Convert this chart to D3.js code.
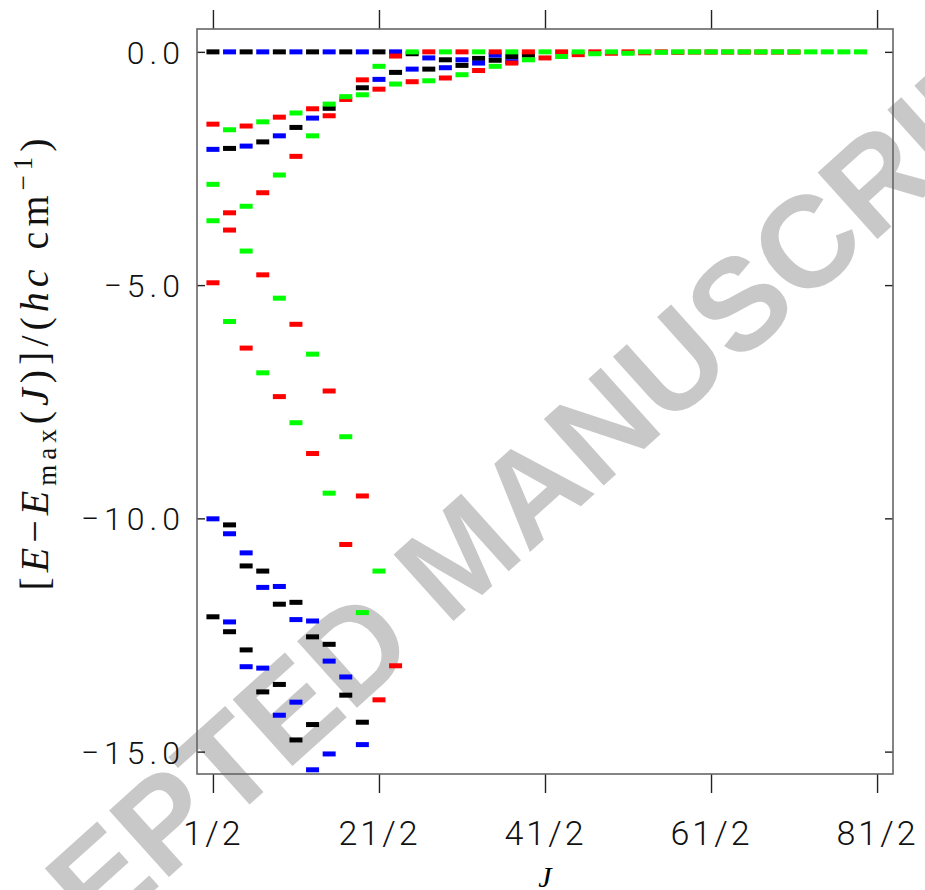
<!DOCTYPE html>
<html>
<head>
<meta charset="utf-8">
<script src="https://cdn.jsdelivr.net/npm/d3@7"></script>
<style>
  body { margin: 0; background: #fff; }
</style>
</head>
<body>
<div id="chart"></div>
<script>
// levels per colour: [J, E - Emax(J)]
const blackLevels = [
  [0.5, 0], [0.5, -12.11],
  [1.5, -2.07], [1.5, -10.14], [1.5, -12.43],
  [2.5, 0], [2.5, -11.02], [2.5, -12.82],
  [3.5, -1.93], [3.5, -11.13], [3.5, -13.72],
  [4.5, 0], [4.5, -11.84], [4.5, -13.56],
  [5.5, -1.62], [5.5, -11.80], [5.5, -14.75],
  [6.5, 0], [6.5, -12.54], [6.5, -14.42],
  [7.5, -1.21], [7.5, -12.70],
  [8.5, 0], [8.5, -13.79],
  [9.5, -0.77], [9.5, -14.37],
  [10.5, 0], [11.5, -0.44], [12.5, -0.04], [13.5, -0.37], [14.5, -0.17],
  [15.5, -0.29], [16.5, -0.14], [17.5, -0.18], [18.5, -0.10], [19.5, -0.07]
];
const blueLevels = [
  [0.5, -2.09], [0.5, -10.01],
  [1.5, 0], [1.5, -10.33], [1.5, -12.22],
  [2.5, -2.02], [2.5, -10.74], [2.5, -13.18],
  [3.5, 0], [3.5, -11.48], [3.5, -13.21],
  [4.5, -1.80], [4.5, -11.46], [4.5, -14.22],
  [5.5, 0], [5.5, -12.17], [5.5, -13.94],
  [6.5, -1.42], [6.5, -12.20], [6.5, -15.39],
  [7.5, 0], [7.5, -13.06], [7.5, -15.05],
  [8.5, -13.40],
  [9.5, 0], [9.5, -14.85],
  [10.5, -0.59], [11.5, 0], [12.5, -0.37], [13.5, -0.13], [14.5, -0.34],
  [15.5, -0.17], [16.5, -0.24], [17.5, -0.07], [18.5, -0.21]
];
const redLevels = [
  [0.5, -1.55], [0.5, -4.95],
  [1.5, -3.45], [1.5, -3.82],
  [2.5, -1.59], [2.5, -6.35],
  [3.5, -3.02], [3.5, -4.78],
  [4.5, -1.40], [4.5, -7.39],
  [5.5, -2.24], [5.5, -5.84],
  [6.5, -1.22], [6.5, -8.61],
  [7.5, -1.37], [7.5, -7.27],
  [8.5, -1.02], [8.5, -10.56],
  [9.5, -0.60], [9.5, -9.52],
  [10.5, -0.80], [10.5, -13.89],
  [11.5, -0.09], [11.5, -13.16],
  [12.5, -0.64], [13.5, 0], [14.5, -0.56], [15.5, 0], [16.5, -0.40],
  [17.5, 0], [18.5, -0.24], [19.5, 0], [20.5, -0.13], [21.5, 0],
  [22.5, -0.06], [23.5, 0], [24.5, -0.03], [25.5, 0], [26.5, -0.02],
  [27.5, 0], [28.5, -0.01], [29.5, -0.005], [30.5, -0.005], [31.5, -0.005],
  [32.5, -0.005], [33.5, -0.005], [34.5, -0.005], [35.5, -0.005]
];
const greenLevels = [
  [0.5, -2.84], [0.5, -3.62],
  [1.5, -1.67], [1.5, -5.78],
  [2.5, -3.31], [2.5, -4.27],
  [3.5, -1.50], [3.5, -6.88],
  [4.5, -2.64], [4.5, -5.28],
  [5.5, -1.31], [5.5, -7.95],
  [6.5, -1.80], [6.5, -6.48],
  [7.5, -1.12], [7.5, -9.46],
  [8.5, -0.96], [8.5, -8.25],
  [9.5, -0.92], [9.5, -12.02],
  [10.5, -0.31], [10.5, -11.13],
  [11.5, -0.69], [12.5, 0], [13.5, -0.62], [14.5, 0], [15.5, -0.49],
  [16.5, 0], [17.5, -0.31], [18.5, 0], [19.5, -0.17], [20.5, 0],
  [21.5, -0.10], [22.5, 0], [23.5, -0.04], [24.5, 0], [25.5, -0.03],
  [26.5, 0], [27.5, -0.01], [28.5, 0], [29.5, 0], [30.5, 0], [31.5, 0],
  [32.5, 0], [33.5, 0], [34.5, 0], [35.5, 0], [36.5, 0], [37.5, 0],
  [38.5, 0], [39.5, 0]
];
const jTicks = [0.5, 10.5, 20.5, 30.5, 40.5];
const eTicks = [0, -5, -10, -15];

const width = 925;
const height = 890;
const frame = { left: 197, right: 893, top: 29, bottom: 774 };

const svg = d3
  .select("#chart")
  .append("svg")
  .attr("width", width)
  .attr("height", height);

// watermark sits under everything
svg
  .append("text")
  .attr("transform", "translate(490,588) rotate(-42)")
  .attr("text-anchor", "middle")
  .style("font-family", "'Liberation Sans', Arial, sans-serif")
  .style("font-weight", "bold")
  .style("font-size", "130px")
  .attr("fill", "#c8c8c8")
  .text("ACCEPTED MANUSCRIPT");

const x = d3.scaleLinear().domain([-0.46, 41.46]).range([frame.left, frame.right]);
const y = d3.scaleLinear().domain([-15.48, 0.49]).range([frame.bottom, frame.top]);

const tickFont = "Roboto, 'Open Sans', 'DejaVu Sans', sans-serif";

// bottom axis with labels
const xAxis = svg
  .append("g")
  .attr("transform", `translate(0,${frame.bottom})`)
  .call(
    d3.axisBottom(x)
      .tickValues(jTicks)
      .tickSize(19)
      .tickPadding(28)
      .tickFormat((d) => `${Math.round(d * 2)}/2`)
  );
// top axis, ticks only
const xAxisTop = svg
  .append("g")
  .attr("transform", `translate(0,${frame.top})`)
  .call(d3.axisTop(x).tickValues(jTicks).tickSize(19).tickFormat(""));

// left axis, ticks pointing in
const yAxis = svg
  .append("g")
  .attr("transform", `translate(${frame.left},0)`)
  .call(
    d3.axisLeft(y)
      .tickValues(eTicks)
      .tickSize(-8)
      .tickPadding(12)
      .tickFormat((d) => (d === 0 ? "0.0" : "\u2212" + Math.abs(d).toFixed(1)))
  );
const yAxisRight = svg
  .append("g")
  .attr("transform", `translate(${frame.right},0)`)
  .call(d3.axisRight(y).tickValues(eTicks).tickSize(-8).tickFormat(""));

[xAxis, xAxisTop, yAxis, yAxisRight].forEach((g) => {
  g.select(".domain").remove();
  g.selectAll("line").attr("stroke", "#222").attr("stroke-width", 1.4);
  g.selectAll("text")
    .style("font-family", tickFont)
    .style("font-weight", 300)
    .style("font-size", "34px")
    .style("letter-spacing", "3px")
    .attr("fill", "#111");
});
yAxis.selectAll("text").style("font-size", "32px").style("letter-spacing", "5px").attr("dy", "0.36em");

// frame
svg
  .append("rect")
  .attr("x", frame.left)
  .attr("y", frame.top)
  .attr("width", frame.right - frame.left)
  .attr("height", frame.bottom - frame.top)
  .attr("fill", "none")
  .attr("stroke", "#666")
  .attr("stroke-width", 1.6);

// level markers: short horizontal dashes
const series = [
  { name: "black", data: blackLevels, color: "#000000" },
  { name: "blue", data: blueLevels, color: "#0000ff" },
  { name: "red", data: redLevels, color: "#ff0000" },
  { name: "green", data: greenLevels, color: "#00ff00" }
];
const markW = 13;
const markH = 5;

series.forEach((s) => {
  svg
    .append("g")
    .attr("class", "levels-" + s.name)
    .selectAll("rect")
    .data(s.data.filter((d) => d[1] >= -15.45))
    .enter()
    .append("rect")
    .attr("x", (d) => x(d[0]) - markW / 2)
    .attr("y", (d) => y(d[1]) - markH / 2)
    .attr("width", markW)
    .attr("height", markH)
    .attr("fill", s.color);
});

// axis titles
svg
  .append("text")
  .attr("x", (frame.left + frame.right) / 2)
  .attr("y", 887)
  .attr("text-anchor", "middle")
  .style("font-family", "'Liberation Serif', 'DejaVu Serif', serif")
  .style("font-style", "italic")
  .style("font-size", "30px")
  .text("J");

const yTitle = svg
  .append("text")
  .attr("transform", "translate(48,362) rotate(-90)")
  .attr("text-anchor", "middle")
  .style("font-family", "'Liberation Serif', 'DejaVu Serif', serif")
  .style("font-size", "40px")
  .style("letter-spacing", "5px")
  .attr("fill", "#111");
yTitle.append("tspan").text("[");
yTitle.append("tspan").style("font-style", "italic").text("E");
yTitle.append("tspan").text("\u2212");
yTitle.append("tspan").style("font-style", "italic").text("E");
yTitle.append("tspan").attr("dy", 8).style("font-size", "27px").text("max");
yTitle.append("tspan").attr("dy", -8).text("(");
yTitle.append("tspan").style("font-style", "italic").text("J");
yTitle.append("tspan").text(")]/(");
yTitle.append("tspan").style("font-style", "italic").text("hc");
yTitle.append("tspan").text(" cm");
yTitle.append("tspan").attr("dy", -16).style("font-size", "27px").text("\u22121");
yTitle.append("tspan").attr("dy", 16).text(")");
</script>
</body>
</html>
